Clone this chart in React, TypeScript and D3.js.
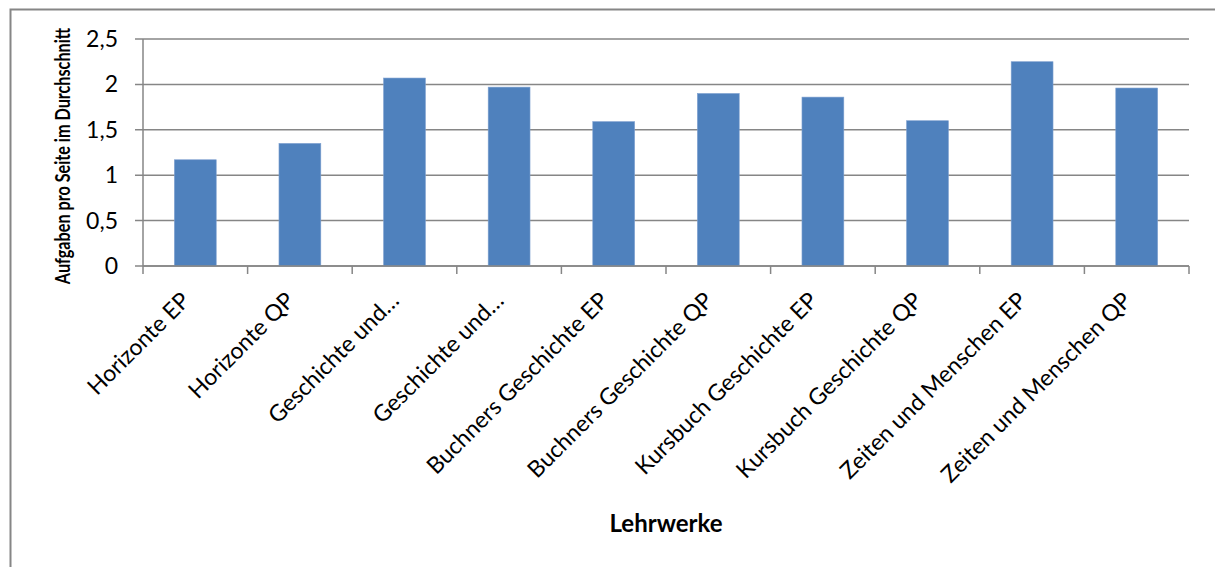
import React from "react";
import * as d3 from "d3";

const categories = [
  "Horizonte EP",
  "Horizonte QP",
  "Geschichte und…",
  "Geschichte und…",
  "Buchners Geschichte EP",
  "Buchners Geschichte QP",
  "Kursbuch Geschichte EP",
  "Kursbuch Geschichte QP",
  "Zeiten und Menschen EP",
  "Zeiten und Menschen QP",
];
const values = [1.17, 1.35, 2.07, 1.97, 1.59, 1.9, 1.86, 1.6, 2.25, 1.96];
const yTicks = [0, 0.5, 1, 1.5, 2, 2.5];
const yTitle = "Aufgaben pro Seite im Durchschnitt";
const xTitle = "Lehrwerke";

const W = 1215;
const H = 567;
const left = 143;
const right = 1189;
const top = 39;
const bottom = 266;
const font = "Lato, 'Open Sans', sans-serif";
const gridColor = "#868686";
const barColor = "#4F81BD";

export default function App() {
  const x = d3.scaleBand<number>().domain(d3.range(categories.length)).range([left, right]).paddingInner(0.6).paddingOuter(0.3);
  const xb = d3.scaleBand<number>().domain(d3.range(categories.length)).range([left, right]);
  const y = d3.scaleLinear().domain([0, 2.5]).range([bottom, top]);
  const fmt = (v: number) => String(v).replace(".", ",");
  return (
    <svg width={W} height={H} style={{ position: "absolute", left: 0, top: 0, background: "#fff" }}>
      <rect x={10.5} y={9.5} width={1300} height={700} fill="#fff" stroke={gridColor} strokeWidth={2} />
      {yTicks.map((t) => (
        <g key={t}>
          <line x1={left - 8} x2={right} y1={y(t)} y2={y(t)} stroke={gridColor} strokeWidth={1.5} />
          <text x={118} y={y(t)} dy="0.35em" textAnchor="end" fontFamily={font} fontSize={23} fill="#000">
            {fmt(t)}
          </text>
        </g>
      ))}
      <line x1={left} x2={left} y1={top} y2={bottom} stroke={gridColor} strokeWidth={1.5} />
      {values.map((v, i) => (
        <rect key={i} x={x(i)} y={y(v)} width={x.bandwidth()} height={y(0) - y(v)} fill={barColor} stroke="#7EA0D0" strokeWidth={0.6} />
      ))}
      <line x1={left} x2={right} y1={bottom} y2={bottom} stroke={gridColor} strokeWidth={1.5} />
      {d3.range(categories.length + 1).map((i) => {
        const xx = i < categories.length ? (xb(i) as number) : right;
        return <line key={i} x1={xx} x2={xx} y1={bottom} y2={bottom + 8} stroke={gridColor} strokeWidth={1.5} />;
      })}
      {categories.map((c, i) => {
        const cx = (xb(i) as number) + xb.bandwidth() / 2;
        return (
          <text
            key={i}
            transform={`translate(${cx - 4},${302}) rotate(-45)`}
            textAnchor="end"
            fontFamily={font}
            fontSize={23}
            fill="#000"
          >
            {c}
          </text>
        );
      })}
      <text
        transform={`translate(70,156) rotate(-90) scale(0.81,1)`}
        textAnchor="middle"
        fontFamily={font}
        fontSize={20}
        fontWeight="bold"
        fill="#000"
      >
        {yTitle}
      </text>
      <text x={666} y={532} textAnchor="middle" fontFamily={font} fontSize={24} fontWeight="bold" fill="#000">
        {xTitle}
      </text>
    </svg>
  );
}
